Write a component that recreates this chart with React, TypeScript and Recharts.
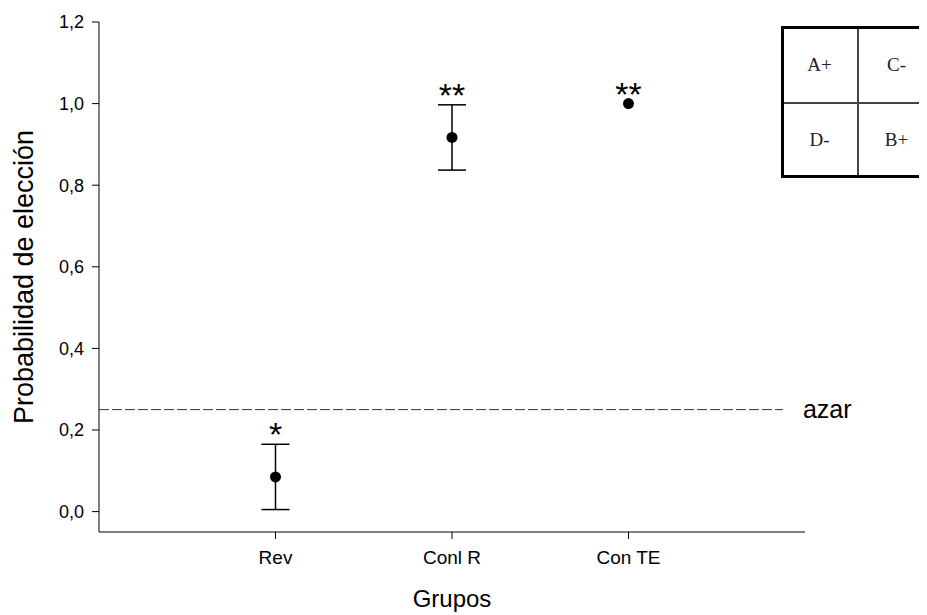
import React from 'react';
import {
  ComposedChart,
  Scatter,
  XAxis,
  YAxis,
  ErrorBar,
  ReferenceLine,
  Label,
} from 'recharts';

// Groups on the x axis and their positions on a 0..4 numeric scale
const groups = ['Rev', 'Conl R', 'Con TE'];
const groupPos = [1, 2, 3];

// Mean choice probability and its error per group
const means = [0.085, 0.917, 1.0];
const errors: (number | null)[] = [0.08, 0.08, null];

// Significance marks above each group
const marks = ['*', '**', '**'];

// Chance level and its line extent along x
const chanceLevel = 0.25;
const chanceEnd = 3.875;

const yTicks = [0, 0.2, 0.4, 0.6, 0.8, 1.0, 1.2];

// Stimulus layout grid shown in the corner
const gridCells = [
  ['A+', 'C-'],
  ['D-', 'B+'],
];

const FONT = '"Liberation Sans", Arial, sans-serif';

const points = groups.map((name, i) => ({
  name,
  x: groupPos[i],
  y: means[i],
  err: errors[i],
}));

const markPoints = groups.map((name, i) => ({
  name,
  x: groupPos[i],
  y: means[i] + (errors[i] ?? 0),
  mark: marks[i],
}));

const fmt = (v: number) => v.toFixed(1).replace('.', ',');

const Dot = (p: any) => <circle cx={p.cx} cy={p.cy} r={5.5} fill="#000" />;

const Mark = (p: any) => (
  <text
    x={p.cx}
    y={p.cy + 2}
    textAnchor="middle"
    fontFamily={FONT}
    fontSize={34}
    fill="#000"
  >
    {p.payload.mark}
  </text>
);

function StimulusGrid() {
  const cell = 77;
  const border = 3;
  return (
    <div
      style={{
        position: 'absolute',
        left: 773,
        top: 18,
        width: 200,
        height: 152,
        border: `${border}px solid #000`,
        boxSizing: 'border-box',
        fontFamily: '"Liberation Serif", "Times New Roman", serif',
        fontSize: 19,
        color: '#222',
        background: '#fff',
      }}
    >
      <div style={{ position: 'absolute', left: cell - border - 1, top: 0, bottom: 0, width: 1.5, background: '#444' }} />
      <div style={{ position: 'absolute', top: 73, left: 0, right: 0, height: 1.5, background: '#444' }} />
      {gridCells.map((row, r) =>
        row.map((t, c) => (
          <div
            key={`${r}-${c}`}
            style={{
              position: 'absolute',
              left: c * cell - border,
              top: r * 75,
              width: cell,
              height: 72,
              display: 'flex',
              alignItems: 'center',
              justifyContent: 'center',
            }}
          >
            {t}
          </div>
        ))
      )}
    </div>
  );
}

export default function App() {
  return (
    <div
      style={{
        position: 'relative',
        width: 919,
        height: 607,
        overflow: 'hidden',
      }}
    >
      <ComposedChart
        width={919}
        height={607}
        margin={{ top: 14, right: 122, bottom: 0, left: 0 }}
      >
        <XAxis
          type="number"
          dataKey="x"
          domain={[0, 4]}
          ticks={groupPos}
          tickFormatter={(v: number) => groups[groupPos.indexOf(v)] ?? ''}
          height={83}
          tickSize={7}
          tickMargin={12}
          stroke="#000"
          tick={{ fill: '#000', fontFamily: FONT, fontSize: 19 }}
          allowDataOverflow
        >
          <Label
            value="Grupos"
            position="insideBottom"
            offset={8}
            fill="#000"
            fontFamily={FONT}
            fontSize={24}
          />
        </XAxis>
        <YAxis
          type="number"
          dataKey="y"
          domain={[-0.05, 1.2]}
          ticks={yTicks}
          tickFormatter={fmt}
          width={91}
          tickSize={7}
          tickMargin={8}
          stroke="#000"
          tick={{ fill: '#000', fontFamily: FONT, fontSize: 18 }}
          allowDataOverflow
        >
          <Label
            value="Probabilidad de elección"
            angle={-90}
            position="insideLeft"
            offset={15}
            fill="#000"
            fontFamily={FONT}
            fontSize={27}
            style={{ textAnchor: 'middle' }}
          />
        </YAxis>
        <ReferenceLine
          segment={[
            { x: 0, y: chanceLevel },
            { x: chanceEnd, y: chanceLevel },
          ]}
          stroke="#333"
          strokeWidth={1}
          strokeDasharray="10 3"
          label={{
            value: 'azar',
            position: 'right',
            offset: 20,
            fill: '#000',
            fontFamily: FONT,
            fontSize: 25,
          }}
        />
        <Scatter data={points} dataKey="y" shape={Dot} isAnimationActive={false}>
          <ErrorBar dataKey="err" direction="y" width={14} strokeWidth={1.5} stroke="#000" />
        </Scatter>
        <Scatter data={markPoints} dataKey="y" shape={Mark} isAnimationActive={false} />
      </ComposedChart>
      <StimulusGrid />
    </div>
  );
}
